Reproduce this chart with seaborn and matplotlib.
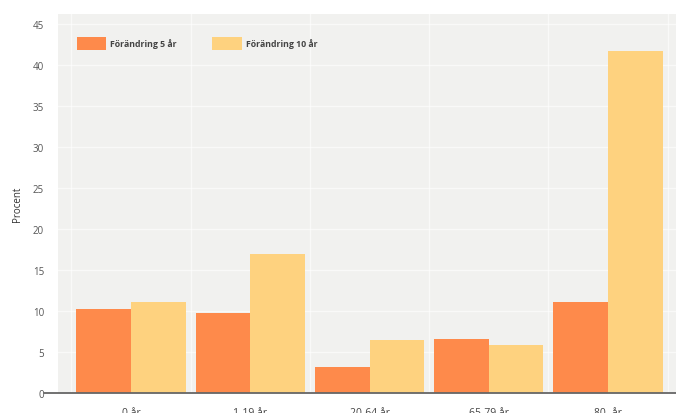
import pandas as pd
import numpy as np
import matplotlib
matplotlib.use("Agg")
import matplotlib.pyplot as plt
import seaborn as sns

# data
age_groups = ["0 år", "1-19 år", "20-64 år", "65-79 år", "80- år"]
change_5y = [10.2, 9.7, 3.2, 6.6, 11.1]
change_10y = [11.1, 17.0, 6.5, 5.8, 41.7]
series_names = ["Förändring 5 år", "Förändring 10 år"]
y_ticks = [0, 5, 10, 15, 20, 25, 30, 35, 40, 45]

df = pd.DataFrame({
    "group": age_groups * 2,
    "serie": [series_names[0]] * len(age_groups) + [series_names[1]] * len(age_groups),
    "value": change_5y + change_10y,
})

sns.set_style("white")
plt.rcParams["font.family"] = ["Open Sans", "DejaVu Sans"]

fig = plt.figure(figsize=(6.76, 4.14), dpi=100)
ax = fig.add_axes([58 / 676, 1 - 394 / 414, 1 - 58 / 676, (394 - 15) / 414])
ax.set_facecolor("#f1f1ef")

palette = {series_names[0]: "#fe8a4b", series_names[1]: "#fed27f"}
sns.barplot(data=df, x="group", y="value", hue="serie", palette=palette,
            width=0.915, gap=0, saturation=1, linewidth=0, ax=ax, zorder=3)

ax.set_xlim(-0.612, 4.57)
ax.set_ylim(0, 46.2)
ax.set_yticks(y_ticks)

# faint white grid
for t in y_ticks[1:]:
    ax.axhline(t, color="white", lw=1.0, alpha=0.6, zorder=1)
for b in np.arange(len(age_groups) + 1) - 0.5:
    ax.axvline(b, color="white", lw=1.0, alpha=0.6, zorder=1)

for s in ["top", "right", "left", "bottom"]:
    ax.spines[s].set_visible(False)
ax.axhline(0, xmin=-0.022, xmax=1, color="#666666", lw=1.3, clip_on=False, zorder=5)

ax.tick_params(axis="y", length=0, labelsize=7, labelcolor="#555555", pad=10)
ax.tick_params(axis="x", length=0, labelsize=7.5, labelcolor="#444444", pad=10)
ax.set_xlabel("")
ax.set_ylabel("Procent", fontsize=7, color="#333333", labelpad=7)

leg = ax.legend(loc="upper left", bbox_to_anchor=(0.03, 0.94), frameon=False,
                ncol=2, fontsize=6.3, handlelength=3.4, handleheight=1.95,
                handletextpad=0.45, columnspacing=4.0, borderaxespad=0, borderpad=0)
for txt in leg.get_texts():
    txt.set_fontweight("bold")
    txt.set_color("#444444")

fig.savefig("out.png", dpi=100)
